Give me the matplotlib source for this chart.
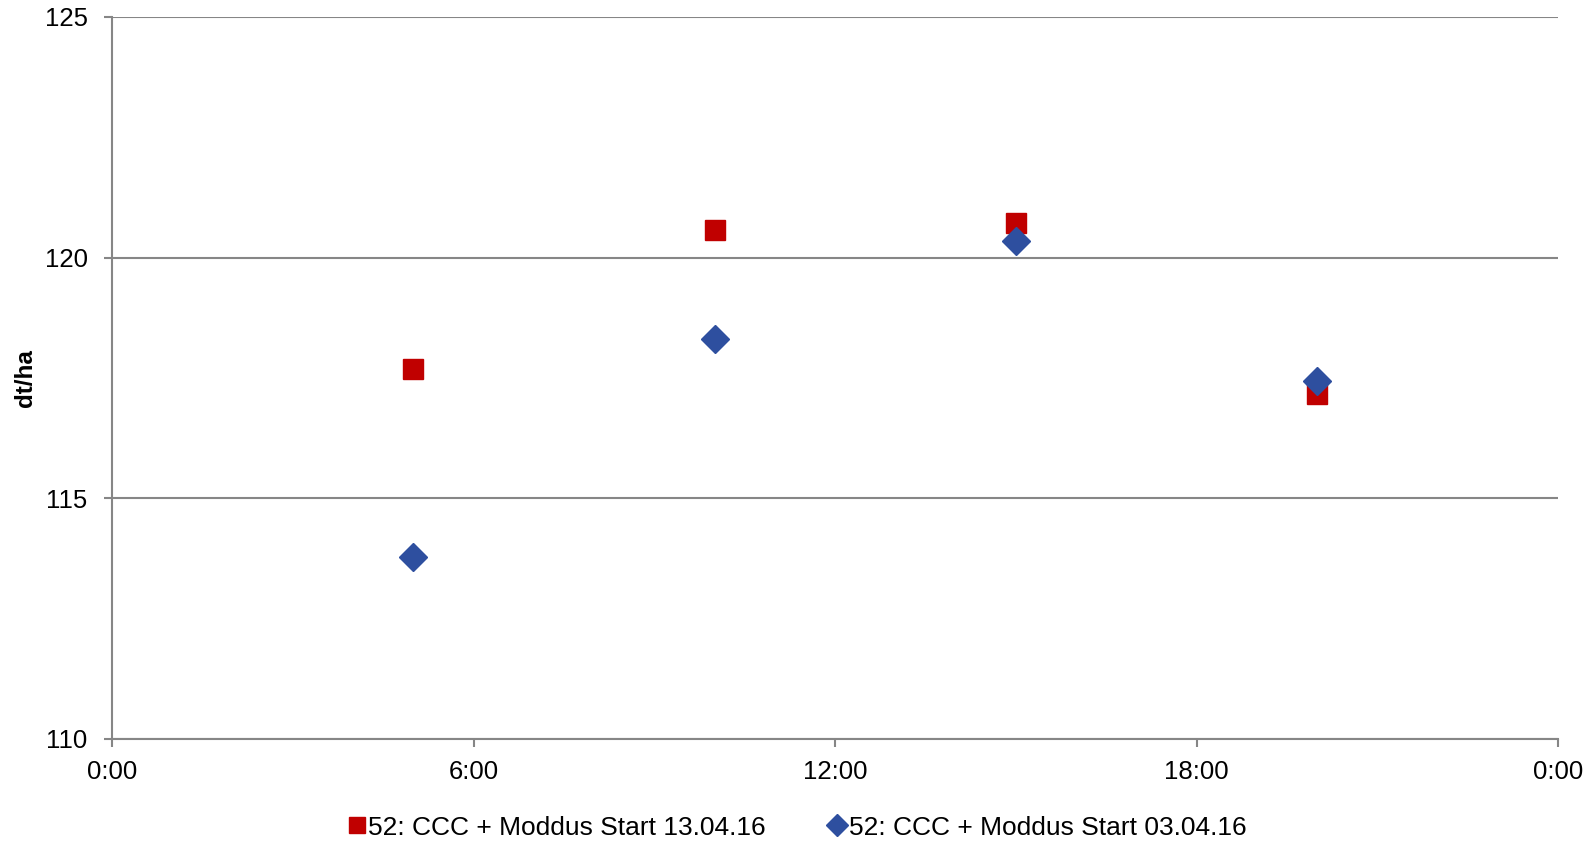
import matplotlib
matplotlib.use("Agg")
import matplotlib.pyplot as plt

plt.rcParams['font.family'] = ['Liberation Sans', 'DejaVu Sans']

hours = [5, 10, 15, 20]
red_vals = [117.69, 120.58, 120.72, 117.16]
blue_vals = [113.79, 118.32, 120.34, 117.44]
red_label = "52: CCC + Moddus Start 13.04.16"
blue_label = "52: CCC + Moddus Start 03.04.16"
xticks = [0, 6, 12, 18, 24]
xticklabels = ["0:00", "6:00", "12:00", "18:00", "0:00"]
yticks = [110, 115, 120, 125]

grey = '#868686'
fig = plt.figure(figsize=(15.89, 8.41), dpi=100)
ax = fig.add_axes([0.0705, 0.1213, 0.910, 0.8585])

ax.plot(hours, red_vals, linestyle='none', marker='s', markersize=14.5,
        color='#C00000', label=red_label, zorder=3)
ax.plot(hours, blue_vals, linestyle='none', marker='D', markersize=14.5,
        color='#2E4F9F', label=blue_label, zorder=4)

ax.set_xlim(0, 24)
ax.set_ylim(110, 125)
ax.set_xticks(xticks)
ax.set_xticklabels(xticklabels)
ax.set_yticks(yticks)
ax.yaxis.grid(True, color=grey, linewidth=1.5)
ax.set_axisbelow(True)
for s in ['top', 'right']:
    ax.spines[s].set_visible(False)
for s in ['left', 'bottom']:
    ax.spines[s].set_color(grey)
    ax.spines[s].set_linewidth(1.5)
ax.tick_params(axis='both', colors=grey, labelcolor='black', labelsize=18.5,
               length=5.5, width=1.5, direction='out')
ax.tick_params(axis='x', pad=9.5)
ax.tick_params(axis='y', pad=12)
ax.set_ylabel("dt/ha", fontsize=17.5, fontweight='bold')
ax.yaxis.set_label_coords(-0.052, 0.5)

fig.legend(loc='center', bbox_to_anchor=(0.5016, 0.016), ncol=2, frameon=False,
           fontsize=19, handletextpad=0.1, columnspacing=2.4, markerscale=0.75,
           handlelength=0.65, borderpad=0.2)

fig.savefig("out.png", dpi=100)
